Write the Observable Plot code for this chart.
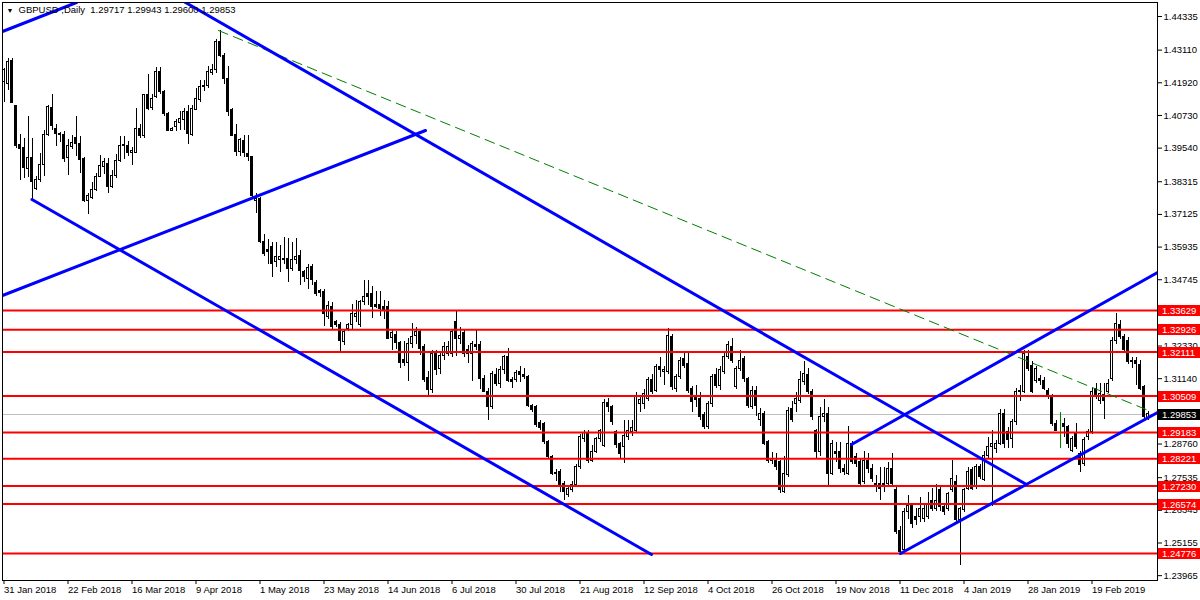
<!DOCTYPE html>
<html><head><meta charset="utf-8">
<script src="https://cdn.jsdelivr.net/npm/d3@7"></script>
<script src="https://cdn.jsdelivr.net/npm/@observablehq/plot@0.6"></script>
<style>
html,body{margin:0;padding:0;background:#fff;}
#chart{width:1200px;height:600px;overflow:hidden;}
</style></head><body><div id="chart"></div>
<script>
// Daily GBPUSD bars, one per trading day (index 0 = 31 Jan 2018)
const opens = [
1.4194,1.4188,1.4271,1.4106,1.3964,1.3954,1.3879,1.3918,1.3806,1.3838,
1.3891,1.4000,1.4101,1.4022,1.4006,1.4003,1.3918,1.3958,1.3990,1.3970,
1.3915,1.3761,1.3773,1.3802,1.3850,1.3887,1.3897,1.3812,1.3852,1.3907,
1.3960,1.3963,1.3936,1.3938,1.4024,1.3998,1.4146,1.4099,1.4140,1.4231,
1.4158,1.4079,1.4018,1.4030,1.4045,1.4057,1.4085,1.4000,1.4094,1.4128,
1.4176,1.4182,1.4229,1.4239,1.4340,1.4291,1.4206,1.4093,1.4000,1.3939,
1.3979,1.3933,1.3921,1.3760,1.3769,1.3611,1.3583,1.3593,1.3539,1.3548,
1.3551,1.3551,1.3514,1.3545,1.3560,1.3502,1.3478,1.3520,1.3463,1.3433,
1.3429,1.3338,1.3375,1.3320,1.3308,1.3247,1.3296,1.3308,1.3338,1.3308,
1.3393,1.3423,1.3423,1.3381,1.3381,1.3377,1.3375,1.3262,1.3272,1.3245,
1.3183,1.3171,1.3241,1.3268,1.3283,1.3231,1.3117,1.3073,1.3205,1.3150,
1.3195,1.3205,1.3205,1.3320,1.3259,1.3280,1.3217,1.3205,1.3235,1.3235,
1.3114,1.3066,1.3010,1.3126,1.3095,1.3144,1.3192,1.3110,1.3110,1.3138,
1.3126,1.3122,1.3016,1.3010,1.2952,1.2950,1.2883,1.2828,1.2767,1.2775,
1.2731,1.2692,1.2709,1.2725,1.2792,1.2895,1.2913,1.2816,1.2846,1.2894,
1.2870,1.3027,1.3010,1.2920,1.2875,1.2864,1.2902,1.2920,1.2925,1.3023,
1.3023,1.3040,1.3108,1.3071,1.3156,1.3137,1.3140,1.3265,1.3077,1.3120,
1.3186,1.3168,1.3077,1.3045,1.3040,1.2980,1.2937,1.3023,1.3126,1.3089,
1.3137,1.3192,1.3231,1.3083,1.3150,1.3186,1.3114,1.3010,1.3071,1.2962,
1.2986,1.2883,1.2816,1.2816,1.2810,1.2701,1.2762,1.3004,1.3023,1.3034,
1.3102,1.3126,1.3065,1.2925,1.2846,1.2974,1.2986,1.2768,1.2846,1.2846,
1.2786,1.2768,1.2877,1.2828,1.2810,1.2737,1.2816,1.2786,1.2731,1.2731,
1.2725,1.2731,1.2786,1.2707,1.2561,1.2490,1.2628,1.2650,1.2610,1.2610,
1.2604,1.2610,1.2670,1.2640,1.2707,1.2646,1.2640,1.2707,1.2737,1.2598,
1.2634,1.2713,1.2780,1.2719,1.2792,1.2746,1.2834,1.2865,1.2858,1.2877,
1.2986,1.2919,1.2895,1.2956,1.3065,1.3065,1.3193,1.3162,1.3107,1.3114,
1.3107,1.3071,1.3047,1.2950,1.2950,1.2950,1.2937,1.2852,1.2913,1.2840,
1.2804,1.2901,1.2919,1.3077,1.3034,1.3053,1.3065,1.3114,1.3253,1.3308,
1.3265,1.3253,1.3180,1.3180,1.3165,1.3085,1.29717];
const highs = [
1.4243,1.4279,1.4279,1.4110,1.4003,1.3988,1.4069,1.3988,1.3850,1.3933,
1.4019,1.4110,1.4148,1.4041,1.4012,1.4016,1.3985,1.4000,1.4069,1.3995,
1.3921,1.3790,1.3830,1.3860,1.3928,1.3915,1.3915,1.3872,1.3930,1.3995,
1.3995,1.3977,1.3955,1.4098,1.4040,1.4150,1.4222,1.4148,1.4246,1.4246,
1.4165,1.4083,1.4030,1.4058,1.4088,1.4098,1.4110,1.4110,1.4170,1.4200,
1.4200,1.4250,1.4260,1.4350,1.4382,1.4300,1.4250,1.4100,1.4040,1.3990,
1.4000,1.4000,1.3925,1.3790,1.3775,1.3640,1.3620,1.3610,1.3610,1.3600,
1.3630,1.3625,1.3610,1.3625,1.3580,1.3510,1.3530,1.3530,1.3470,1.3440,
1.3440,1.3395,1.3390,1.3325,1.3320,1.3290,1.3315,1.3385,1.3400,1.3400,
1.3470,1.3470,1.3450,1.3430,1.3430,1.3400,1.3395,1.3290,1.3285,1.3250,
1.3250,1.3260,1.3315,1.3300,1.3290,1.3240,1.3140,1.3215,1.3215,1.3205,
1.3245,1.3250,1.3290,1.3362,1.3300,1.3290,1.3235,1.3250,1.3290,1.3250,
1.3125,1.3080,1.3140,1.3150,1.3160,1.3200,1.3225,1.3120,1.3145,1.3160,
1.3150,1.3125,1.3020,1.3015,1.2960,1.2955,1.2890,1.2833,1.2785,1.2785,
1.2740,1.2722,1.2740,1.2800,1.2910,1.2925,1.2925,1.2870,1.2900,1.2930,
1.3040,1.3043,1.3015,1.2925,1.2880,1.2960,1.2960,1.2960,1.3065,1.3050,
1.3075,1.3120,1.3130,1.3165,1.3190,1.3160,1.3297,1.3275,1.3130,1.3190,
1.3205,1.3205,1.3085,1.3090,1.3065,1.2990,1.3030,1.3130,1.3150,1.3160,
1.3210,1.3250,1.3260,1.3160,1.3215,1.3195,1.3120,1.3085,1.3085,1.3005,
1.2995,1.2890,1.2845,1.2840,1.2815,1.2830,1.3010,1.3030,1.3065,1.3140,
1.3175,1.3150,1.3075,1.2930,1.3010,1.3040,1.3010,1.2890,1.2880,1.2880,
1.2800,1.2940,1.2885,1.2840,1.2820,1.2850,1.2840,1.2800,1.2760,1.2790,
1.2790,1.2810,1.2840,1.2720,1.2575,1.2640,1.2690,1.2660,1.2640,1.2680,
1.2660,1.2700,1.2715,1.2730,1.2720,1.2660,1.2700,1.2815,1.2760,1.2645,
1.2715,1.2790,1.2790,1.2800,1.2800,1.2850,1.2900,1.2925,1.2890,1.3000,
1.3000,1.2935,1.2965,1.3080,1.3090,1.3218,1.3215,1.3175,1.3160,1.3125,
1.3120,1.3080,1.3055,1.2960,1.2990,1.2970,1.2945,1.2905,1.2950,1.2850,
1.2900,1.2930,1.3080,1.3095,1.3095,1.3095,1.3110,1.3265,1.3350,1.3325,
1.3275,1.3265,1.3190,1.3190,1.3180,1.3090,1.29943];
const lows = [
1.4121,1.4164,1.4115,1.3952,1.3836,1.3845,1.3848,1.3767,1.3800,1.3830,
1.3850,1.3996,1.4020,1.3961,1.3973,1.3902,1.3856,1.3948,1.3922,1.3862,
1.3755,1.3712,1.3768,1.3795,1.3848,1.3857,1.3790,1.3808,1.3844,1.3900,
1.3911,1.3922,1.3890,1.3936,1.3990,1.3990,1.4092,1.4090,1.4135,1.4150,
1.4070,1.4013,1.4015,1.4014,1.4020,1.4020,1.3968,1.3995,1.4090,1.4120,
1.4160,1.4170,1.4218,1.4225,1.4285,1.4185,1.4070,1.3995,1.3925,1.3925,
1.3920,1.3905,1.3775,1.3715,1.3605,1.3560,1.3530,1.3484,1.3520,1.3500,
1.3530,1.3465,1.3505,1.3530,1.3455,1.3465,1.3440,1.3455,1.3415,1.3410,
1.3305,1.3330,1.3290,1.3300,1.3207,1.3235,1.3285,1.3295,1.3320,1.3300,
1.3380,1.3380,1.3335,1.3370,1.3340,1.3330,1.3255,1.3218,1.3220,1.3150,
1.3160,1.3103,1.3225,1.3240,1.3200,1.3100,1.3050,1.3060,1.3125,1.3130,
1.3180,1.3195,1.3190,1.3195,1.3240,1.3190,1.3170,1.3103,1.3215,1.3073,
1.3065,1.2960,1.3000,1.3085,1.3080,1.3130,1.3100,1.3080,1.3100,1.3100,
1.3110,1.3010,1.2990,1.2935,1.2925,1.2875,1.2820,1.2760,1.2740,1.2700,
1.2670,1.2680,1.2700,1.2720,1.2785,1.2880,1.2805,1.2810,1.2840,1.2880,
1.2865,1.2990,1.2945,1.2860,1.2820,1.2805,1.2890,1.2905,1.2915,1.2990,
1.3000,1.3030,1.3055,1.3065,1.3120,1.3090,1.3130,1.3070,1.3065,1.3110,
1.3150,1.3060,1.2990,1.3010,1.2960,1.2930,1.2930,1.3010,1.3080,1.3070,
1.3130,1.3185,1.3170,1.3075,1.3140,1.3100,1.3005,1.3000,1.2975,1.2940,
1.2870,1.2805,1.2800,1.2780,1.2697,1.2695,1.2755,1.2955,1.2990,1.3025,
1.3090,1.3055,1.2960,1.2820,1.2830,1.2955,1.2725,1.2760,1.2810,1.2770,
1.2760,1.2760,1.2800,1.2790,1.2720,1.2730,1.2770,1.2735,1.2700,1.2670,
1.2700,1.2719,1.2720,1.2545,1.2477,1.2485,1.2600,1.2570,1.2580,1.2590,
1.2590,1.2600,1.2630,1.2630,1.2630,1.2615,1.2630,1.2700,1.2590,1.2433,
1.2625,1.2705,1.2705,1.2710,1.2745,1.2740,1.2825,1.2650,1.2840,1.2870,
1.2860,1.2860,1.2860,1.2945,1.3030,1.3060,1.3140,1.3060,1.3095,1.3090,
1.3070,1.3040,1.2940,1.2920,1.2860,1.2900,1.2860,1.2845,1.2855,1.2773,
1.2795,1.2890,1.2910,1.3040,1.3020,1.2965,1.3060,1.3105,1.3240,1.3255,
1.3210,1.3165,1.3150,1.3090,1.3070,1.2960,1.29600];
const closes = [
1.4237,1.4267,1.4119,1.3960,1.3952,1.3881,1.3919,1.3830,1.3838,1.3894,
1.4003,1.4103,1.4033,1.4004,1.4000,1.3915,1.3960,1.3972,1.3970,1.3911,
1.3761,1.3778,1.3803,1.3850,1.3890,1.3905,1.3812,1.3852,1.3907,1.3960,
1.3966,1.3936,1.3945,1.4024,1.3998,1.4146,1.4097,1.4134,1.4231,1.4158,
1.4077,1.4018,1.4024,1.4048,1.4060,1.4085,1.4004,1.4097,1.4134,1.4176,
1.4182,1.4231,1.4239,1.4340,1.4291,1.4206,1.4085,1.3999,1.3939,1.3982,
1.3936,1.3921,1.3781,1.3770,1.3611,1.3569,1.3575,1.3532,1.3557,1.3557,
1.3545,1.3514,1.3545,1.3557,1.3506,1.3484,1.3518,1.3474,1.3423,1.3426,
1.3350,1.3380,1.3302,1.3308,1.3253,1.3283,1.3308,1.3350,1.3350,1.3393,
1.3411,1.3411,1.3375,1.3375,1.3369,1.3365,1.3259,1.3281,1.3243,1.3171,
1.3171,1.3241,1.3265,1.3284,1.3223,1.3110,1.3073,1.3205,1.3144,1.3195,
1.3228,1.3228,1.3284,1.3259,1.3271,1.3205,1.3205,1.3241,1.3229,1.3114,
1.3066,1.3010,1.3132,1.3095,1.3144,1.3192,1.3107,1.3102,1.3134,1.3126,
1.3122,1.3016,1.3000,1.2944,1.2935,1.2883,1.2828,1.2767,1.2772,1.2719,
1.2700,1.2713,1.2725,1.2792,1.2901,1.2915,1.2813,1.2846,1.2894,1.2925,
1.3027,1.3010,1.2956,1.2871,1.2840,1.2907,1.2925,1.2935,1.3050,1.3037,
1.3058,1.3108,1.3065,1.3156,1.3144,1.3147,1.3271,1.3083,1.3120,1.3180,
1.3162,1.3071,1.3029,1.3037,1.2974,1.2937,1.3023,1.3120,1.3089,1.3144,
1.3192,1.3235,1.3180,1.3150,1.3180,1.3114,1.3016,1.3071,1.3016,1.2986,
1.2877,1.2816,1.2822,1.2792,1.2707,1.2768,1.2998,1.2962,1.3040,1.3108,
1.3132,1.3065,1.2974,1.2846,1.2974,1.2986,1.2768,1.2877,1.2840,1.2786,
1.2774,1.2877,1.2810,1.2804,1.2731,1.2816,1.2786,1.2749,1.2725,1.2713,
1.2731,1.2786,1.2731,1.2555,1.2482,1.2628,1.2652,1.2585,1.2598,1.2640,
1.2640,1.2658,1.2640,1.2670,1.2646,1.2628,1.2694,1.2750,1.2598,1.2640,
1.2707,1.2774,1.2713,1.2792,1.2755,1.2834,1.2865,1.2877,1.2877,1.2986,
1.2877,1.2889,1.2956,1.3065,1.3071,1.3205,1.3150,1.3065,1.3150,1.3107,
1.3077,1.3047,1.2950,1.2925,1.2950,1.2937,1.2877,1.2895,1.2865,1.2798,
1.2889,1.2919,1.3065,1.3047,1.3059,1.3034,1.3095,1.3253,1.3314,1.3265,
1.3217,1.3174,1.3174,1.3168,1.3077,1.2975,1.29853];

// Time axis labels (one every 16 bars)
const dateLabels = ["31 Jan 2018","22 Feb 2018","16 Mar 2018","9 Apr 2018","1 May 2018","23 May 2018",
  "14 Jun 2018","6 Jul 2018","30 Jul 2018","21 Aug 2018","12 Sep 2018","4 Oct 2018","26 Oct 2018",
  "19 Nov 2018","11 Dec 2018","4 Jan 2019","28 Jan 2019","19 Feb 2019"];
const labelEvery = 16;
// Price axis ticks (1.29950 sits fully under the current-price tag)
const priceTicks = [1.44335,1.43110,1.41920,1.40730,1.39540,1.38315,1.37125,1.35935,1.34745,
  1.33520,1.32330,1.31140,1.28760,1.27535,1.26345,1.25155,1.23965];
// Horizontal support / resistance levels
const levels = [1.33629,1.32926,1.32111,1.30509,1.29183,1.28221,1.27230,1.26574,1.24776];
const currentPrice = 1.29853;
// Trend lines: [startBar, startPrice, endBar, endPrice]
const blueLines = [
  [-0.375,1.43789,18.125,1.44845],
  [-0.375,1.34171,105.375,1.40182],
  [45.375,1.44845,255.625,1.27286],
  [7,1.37668,161.875,1.24736],
  [211.875,1.28743,288.375,1.35009],
  [224.125,1.24772,288.375,1.29909]
];
const greenLine = [53.625,1.43825,286.125,1.29982];
const titleText = "GBPUSD ,Daily  1.29717 1.29943 1.29600 1.29853";

const bars = opens.map((o, i) => ({i, o, h: highs[i], l: lows[i], c: closes[i]}));
const upBars = bars.filter(b => b.c > b.o);
const downBars = bars.filter(b => b.c < b.o);
const dojiBars = bars.filter(b => b.c === b.o);
const lineSegs = blueLines.flatMap((s, k) => [{k, i: s[0], p: s[1]}, {k, i: s[2], p: s[3]}]);
const greenSeg = [{i: greenLine[0], p: greenLine[1]}, {i: greenLine[2], p: greenLine[3]}];
const tickBars = dateLabels.map((d, k) => k * labelEvery);

const W = 1200, H = 600, mL = 2, mR = 43, mT = 2, mB = 20;
const FONT = "'Liberation Sans', Arial, sans-serif";
const chart = Plot.plot({
  width: W, height: H,
  marginLeft: mL, marginRight: mR, marginTop: mT, marginBottom: mB,
  x: {type: "linear", domain: [-0.375, 288.375], label: null},
  y: {type: "linear", domain: [1.2378855, 1.4484502], label: null},
  style: {fontFamily: FONT, fontSize: "9.5px", background: "#ffffff", color: "#000"},
  marks: [
    Plot.ruleY([currentPrice], {stroke: "#c0c0c0", strokeWidth: 1, shapeRendering: "crispEdges"}),
    Plot.ruleX(bars.filter(b => b.c !== b.o), {x: "i", y1: "l", y2: "h", stroke: "#000", strokeWidth: 1, shapeRendering: "crispEdges"}),
    Plot.ruleX(dojiBars, {x: "i", y1: "l", y2: "h", stroke: "#008000", strokeWidth: 1, shapeRendering: "crispEdges"}),
    Plot.rect(upBars, {x1: b => b.i - 0.25, x2: b => b.i + 0.25, y1: "o", y2: "c", fill: "#fff", stroke: "#000", strokeWidth: 1, shapeRendering: "crispEdges"}),
    Plot.rect(downBars, {x1: b => b.i - 0.25, x2: b => b.i + 0.25, y1: "o", y2: "c", fill: "#000", stroke: "#000", strokeWidth: 1, shapeRendering: "crispEdges"}),
    Plot.rect(dojiBars, {x1: b => b.i - 0.25, x2: b => b.i + 0.25, y1: "o", y2: "c", fill: "none", stroke: "#008000", strokeWidth: 1, shapeRendering: "crispEdges"}),
    Plot.ruleY(levels, {stroke: "#ff0000", strokeWidth: 2}),
    Plot.line(greenSeg, {x: "i", y: "p", stroke: "#008000", strokeWidth: 1, strokeDasharray: "10,6", clip: true}),
    Plot.line(lineSegs, {x: "i", y: "p", z: "k", stroke: "#0000ff", strokeWidth: 3, clip: true}),
    Plot.frame({stroke: "#000", shapeRendering: "crispEdges"}),
    Plot.axisY(priceTicks, {anchor: "right", label: null, tickSize: 4, tickPadding: 2, tickFormat: d => d.toFixed(5), fontSize: 9.5}),
    Plot.axisX(tickBars, {anchor: "bottom", label: null, tickSize: 4, tickPadding: 2, tickFormat: d => dateLabels[d / labelEvery], textAnchor: "start", dx: 0, fontSize: 9.5}),
    Plot.text([titleText], {frameAnchor: "top-left", dx: 16, dy: 4, textAnchor: "start", lineAnchor: "top", fontSize: 9.5, fill: "#000"}),
    Plot.text(["\u25BC"], {frameAnchor: "top-left", dx: 4, dy: 6, textAnchor: "start", lineAnchor: "top", fontSize: 7, fill: "#000"})
  ]
});
document.getElementById("chart").appendChild(chart);

// Price tags on the right axis, placed with the plot's own y scale
const yScale = chart.scale("y");
const svg = d3.select(chart);
const tags = svg.append("g").attr("font-family", FONT).attr("font-size", 9.5).attr("text-anchor", "start");
const tagData = levels.map(v => ({v, fill: "#ff0000"})).concat([{v: currentPrice, fill: "#000000"}]);
tagData.forEach(t => {
  const yy = Math.round(yScale.apply(t.v));
  tags.append("rect").attr("x", W - mR + 1).attr("y", yy - 5).attr("width", mR - 1).attr("height", 11).attr("fill", t.fill);
  tags.append("text").attr("x", W - mR + 5).attr("y", yy + 4).attr("fill", "#fff").attr("text-anchor", "start").text(t.v.toFixed(5));
});
</script></body></html>
